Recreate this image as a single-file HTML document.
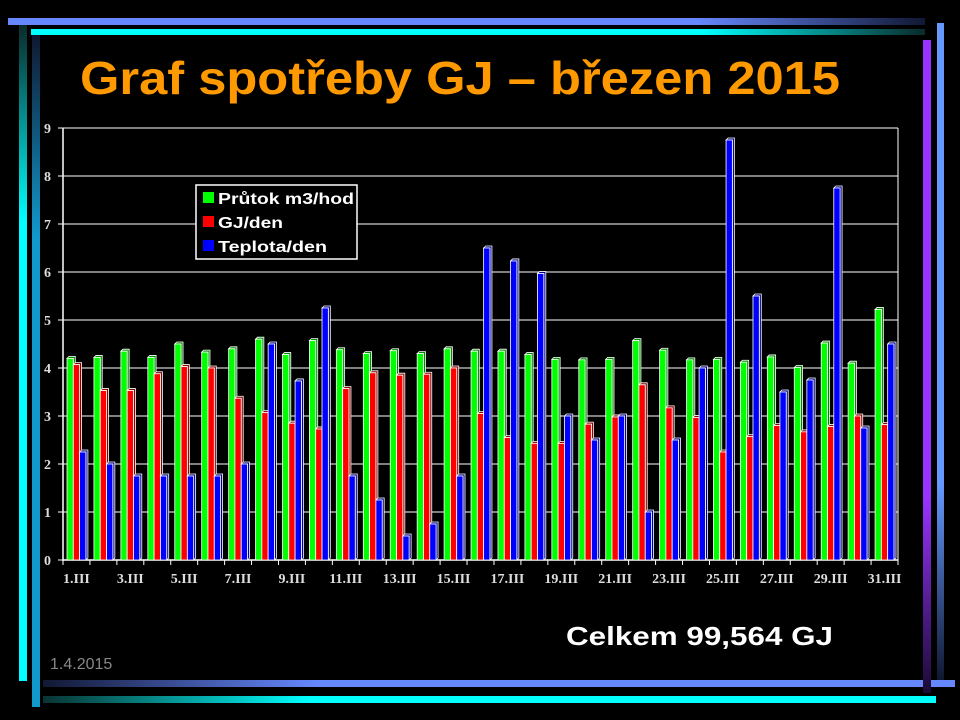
<!DOCTYPE html>
<html><head><meta charset="utf-8"><style>
html,body{margin:0;padding:0;background:#000;width:960px;height:720px;overflow:hidden}
svg{display:block}
</style></head><body>
<svg id="chart" width="960" height="720" xmlns="http://www.w3.org/2000/svg">
<defs>
<linearGradient id="gTopBlue" x1="0" x2="1" y1="0" y2="0"><stop offset="0" stop-color="#6688ff"/><stop offset="0.75" stop-color="#6688ff"/><stop offset="1" stop-color="#111833"/></linearGradient>
<linearGradient id="gTopCyan" x1="0" x2="1" y1="0" y2="0"><stop offset="0" stop-color="#00ffff"/><stop offset="0.75" stop-color="#00ffff"/><stop offset="1" stop-color="#0a2a2a"/></linearGradient>
<linearGradient id="gBotBlue" x1="0" x2="1" y1="0" y2="0"><stop offset="0" stop-color="#111833"/><stop offset="0.3" stop-color="#6688ff"/><stop offset="1" stop-color="#6688ff"/></linearGradient>
<linearGradient id="gBotCyan" x1="0" x2="1" y1="0" y2="0"><stop offset="0" stop-color="#0a3333"/><stop offset="0.3" stop-color="#00ffff"/><stop offset="1" stop-color="#00ffff"/></linearGradient>
<linearGradient id="gLeftCyan" x1="0" x2="0" y1="0" y2="1"><stop offset="0" stop-color="#0a2a2a"/><stop offset="0.3" stop-color="#00ffff"/><stop offset="1" stop-color="#00ffff"/></linearGradient>
<linearGradient id="gLeftBlue" x1="0" x2="0" y1="0" y2="1"><stop offset="0" stop-color="#101830"/><stop offset="0.3" stop-color="#1199cc"/><stop offset="1" stop-color="#1199cc"/></linearGradient>
<linearGradient id="gRightPurple" x1="0" x2="0" y1="0" y2="1"><stop offset="0" stop-color="#9933ff"/><stop offset="0.7" stop-color="#9933ff"/><stop offset="1" stop-color="#1a0a33"/></linearGradient>
<linearGradient id="gRightBlue" x1="0" x2="0" y1="0" y2="1"><stop offset="0" stop-color="#6699ff"/><stop offset="0.7" stop-color="#6699ff"/><stop offset="1" stop-color="#101830"/></linearGradient>
</defs>
<rect x="8" y="18" width="917" height="7" fill="url(#gTopBlue)"/>
<rect x="31" y="29" width="894" height="6" fill="url(#gTopCyan)"/>
<rect x="19" y="25" width="8" height="656" fill="url(#gLeftCyan)"/>
<rect x="32" y="35" width="8" height="672" fill="url(#gLeftBlue)"/>
<rect x="43" y="680" width="912" height="7" fill="url(#gBotBlue)"/>
<rect x="43" y="696" width="893" height="7" fill="url(#gBotCyan)"/>
<rect x="923" y="40" width="8" height="653" fill="url(#gRightPurple)"/>
<rect x="937" y="23" width="7" height="657" fill="url(#gRightBlue)"/>

<text x="460" y="94" text-anchor="middle" font-family="Liberation Sans, sans-serif" font-weight="bold" font-size="46" fill="#ff9900" textLength="760" lengthAdjust="spacingAndGlyphs">Graf spotřeby GJ – březen 2015</text>

<g id="plot"></g>

<g>
<rect x="196" y="185" width="161" height="74" fill="#000" stroke="#fff" stroke-width="1.5"/>
<g><rect x="203" y="192" width="11" height="11" fill="#00ff00"/><text x="218" y="204" font-family="Liberation Sans, sans-serif" font-weight="bold" font-size="16" fill="#fff" textLength="136" lengthAdjust="spacingAndGlyphs">Průtok m3/hod</text></g>
<g><rect x="203" y="216" width="11" height="11" fill="#ff0000"/><text x="218" y="228" font-family="Liberation Sans, sans-serif" font-weight="bold" font-size="16" fill="#fff" textLength="65" lengthAdjust="spacingAndGlyphs">GJ/den</text></g>
<g><rect x="203" y="240" width="11" height="11" fill="#0000ff"/><text x="218" y="252" font-family="Liberation Sans, sans-serif" font-weight="bold" font-size="16" fill="#fff" textLength="109" lengthAdjust="spacingAndGlyphs">Teplota/den</text></g>
</g>

<text x="566" y="645" font-family="Liberation Sans, sans-serif" font-weight="bold" font-size="26" fill="#fff" textLength="267" lengthAdjust="spacingAndGlyphs">Celkem 99,564 GJ</text>
<text x="50" y="669" font-family="Liberation Sans, sans-serif" font-size="16" fill="#888">1.4.2015</text>
</svg>
<script>
const days = ["1.III","2.III","3.III","4.III","5.III","6.III","7.III","8.III","9.III","10.III","11.III","12.III","13.III","14.III","15.III","16.III","17.III","18.III","19.III","20.III","21.III","22.III","23.III","24.III","25.III","26.III","27.III","28.III","29.III","30.III","31.III"];
const prutok = [4.2,4.22,4.35,4.22,4.5,4.33,4.4,4.6,4.28,4.57,4.38,4.3,4.36,4.3,4.4,4.35,4.35,4.28,4.18,4.17,4.18,4.57,4.37,4.17,4.18,4.12,4.23,4.01,4.52,4.1,5.22];
const gjDen = [4.07,3.53,3.53,3.88,4.03,4.0,3.37,3.07,2.85,2.73,3.57,3.9,3.85,3.87,4.0,3.05,2.55,2.43,2.43,2.83,2.98,3.65,3.17,2.97,2.25,2.57,2.8,2.67,2.78,3.0,2.82];
const teplota = [2.25,2.0,1.75,1.75,1.75,1.75,2.0,4.5,3.73,5.25,1.75,1.25,0.5,0.75,1.75,6.5,6.23,5.97,3.0,2.5,3.0,1.0,2.5,4.0,8.75,5.5,3.5,3.75,7.75,2.75,4.5];
const yTicks = [0,1,2,3,4,5,6,7,8,9];

const NS = "http://www.w3.org/2000/svg";
const X0 = 63, X1 = 898, Y0 = 560, Y1 = 128, YMAX = 9;
const gw = (X1 - X0) / days.length;
function y(v){ return Y0 - (v / YMAX) * (Y0 - Y1); }
function xg(i){ return X0 + i * gw; }
const plot = document.getElementById('plot');
function mk(tag, attrs, parent){
  const e = document.createElementNS(NS, tag);
  for (const k in attrs) e.setAttribute(k, attrs[k]);
  (parent || plot).appendChild(e);
  return e;
}
yTicks.forEach(t => {
  const l = mk('line', {x1: X0, x2: X1, y1: y(t), y2: y(t), stroke: '#fff', 'stroke-width': 1});
  
  
  const tx = mk('text', {x: 51, y: y(t) + 5, 'text-anchor': 'end', 'font-family': 'Liberation Serif, serif', 'font-weight': 'bold', 'font-size': 14, fill: '#ddd'});
  tx.textContent = t;
  
  
  const tk = mk('line', {x1: X0 - 5, x2: X0, y1: y(t), y2: y(t), stroke: '#fff'});
  
  
});
const ax = mk('line', {x1: X0, x2: X0, y1: Y1, y2: Y0 + 1, stroke: '#fff', 'stroke-width': 1.5});


const rx = mk('line', {x1: X1, x2: X1, y1: Y1, y2: Y0, stroke: '#fff', 'stroke-width': 1});


const xa = mk('line', {x1: X0, x2: X1, y1: Y0, y2: Y0, stroke: '#fff', 'stroke-width': 1.5});


for (let i = 0; i <= days.length; i++) {
  const tk = mk('line', {x1: xg(i), x2: xg(i), y1: Y0, y2: Y0 + 5, stroke: '#fff'});
  
  
}
days.forEach((d, i) => {
  if (i % 2 === 0) {
    const tx = mk('text', {x: xg(i) + gw / 2, y: Y0 + 23, 'text-anchor': 'middle', 'font-family': 'Liberation Serif, serif', 'font-weight': 'bold', 'font-size': 14, fill: '#ddd'});
    tx.textContent = d;
    
    
  }
});
const series = [[prutok, '#00ff00', '#008800', 'prutok'], [gjDen, '#ff0000', '#880000', 'gj'], [teplota, '#0000ff', '#000088', 'teplota']];
const bw = 6.3;
days.forEach((d, i) => {
  series.forEach((s, k) => {
    const v = s[0][i];
    const bx = xg(i) + 4 + k * bw;
    const top = y(v);
    const g = mk('g', {});
    
    
    mk('polygon', {points: `${bx},${top} ${bx + 2},${top - 2} ${bx + bw + 2},${top - 2} ${bx + bw + 2},${Y0 - 2} ${bx + bw},${Y0} ${bx + bw},${top}`, fill: s[2], stroke: '#fff', 'stroke-width': 0.8}, g);
    mk('rect', {x: bx, y: top, width: bw, height: Y0 - top, fill: s[1], stroke: '#fff', 'stroke-width': 0.8}, g);
  });
});
</script>
</body></html>
